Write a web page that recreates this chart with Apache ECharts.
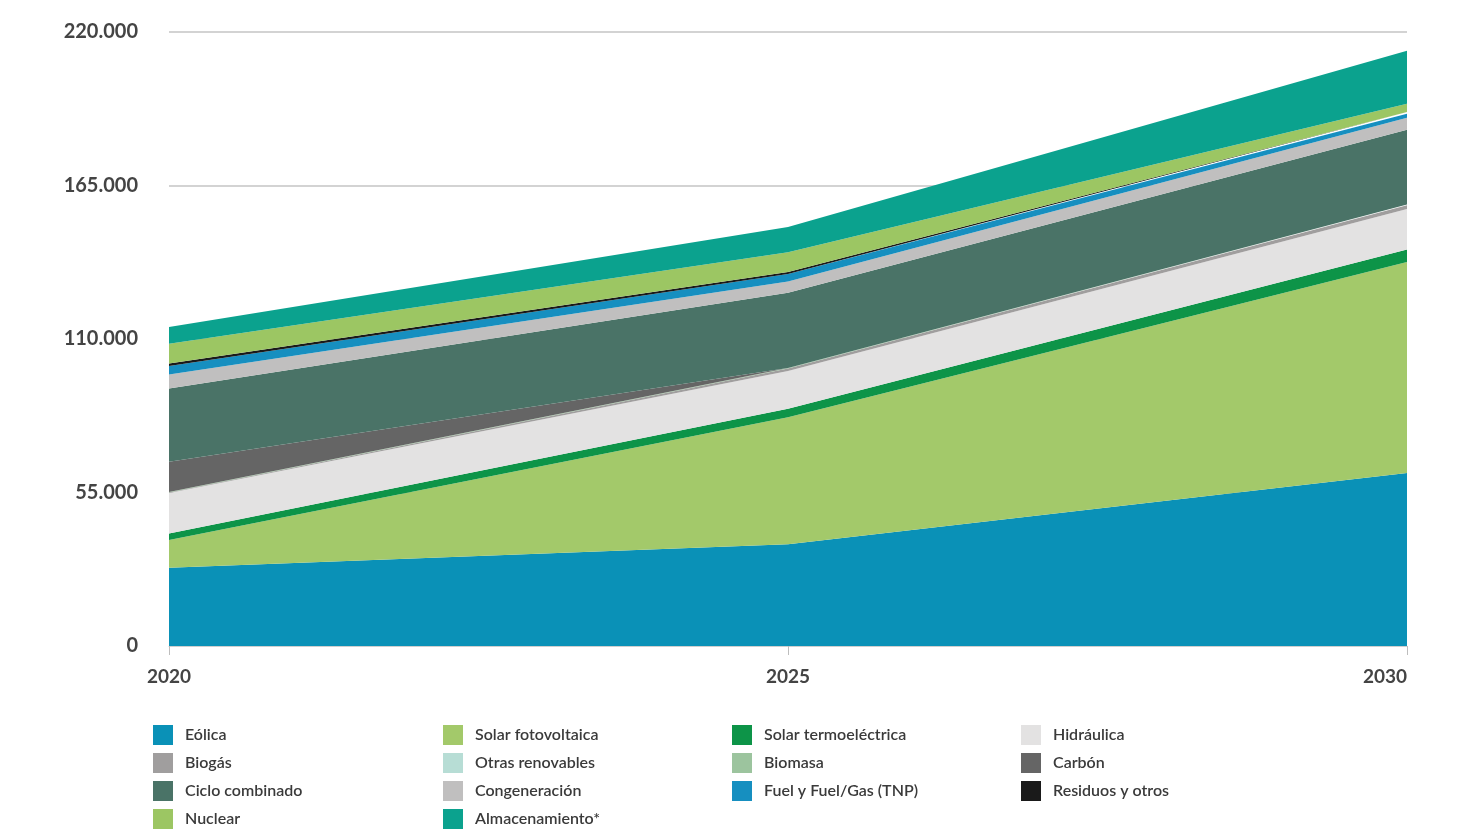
<!DOCTYPE html>
<html>
<head>
<meta charset="utf-8">
<script src="https://cdn.jsdelivr.net/npm/echarts@6/dist/echarts.min.js"></script>
<style>
html,body{margin:0;padding:0;background:#fff;}
#chart{width:1483px;height:834px;}
</style>
</head>
<body>
<div id="chart"></div>
<script>
// Categories
const years = ['2020', '2025', '2030'];
// Y axis ticks
const yTicks = [0, 55000, 110000, 165000, 220000];

// Series values (MW), bottom to top
const eolica          = [28000, 36500, 62000];
const solarFV         = [10000, 45500, 75600];
const solarTermo      = [2300, 3000, 4500];
const hidraulica      = [14500, 13500, 14500];
const biogas          = [200, 900, 1300];
const otrasRenovables = [0, 50, 100];
const biomasa         = [200, 150, 200];
const carbon          = [10800, 0, 0];
const cicloCombinado  = [26300, 27000, 26800];
const cogeneracion    = [5000, 4000, 4300];
const fuelGas         = [3000, 2700, 1400];
const residuos        = [900, 700, 600];
const nuclear         = [7100, 7100, 3000];
const almacenamiento  = [6000, 9000, 19000];

const seriesDefs = [
  ['Eólica', eolica, '#0a91b7'],
  ['Solar fotovoltaica', solarFV, '#a3c96a'],
  ['Solar termoeléctrica', solarTermo, '#0d9448'],
  ['Hidráulica', hidraulica, '#e3e2e2'],
  ['Biogás', biogas, '#a09e9e'],
  ['Otras renovables', otrasRenovables, '#b7ddd5'],
  ['Biomasa', biomasa, '#9cc49e'],
  ['Carbón', carbon, '#656565'],
  ['Ciclo combinado', cicloCombinado, '#4a7367'],
  ['Congeneración', cogeneracion, '#c0bfbf'],
  ['Fuel y Fuel/Gas (TNP)', fuelGas, '#168fc0'],
  ['Residuos y otros', residuos, '#1a1a1a'],
  ['Nuclear', nuclear, '#9cc663'],
  ['Almacenamiento*', almacenamiento, '#0ba28e']
];

const legendCols = [
  ['Eólica', 'Biogás', 'Ciclo combinado', 'Nuclear'],
  ['Solar fotovoltaica', 'Otras renovables', 'Congeneración', 'Almacenamiento*'],
  ['Solar termoeléctrica', 'Biomasa', 'Fuel y Fuel/Gas (TNP)'],
  ['Hidráulica', 'Carbón', 'Residuos y otros']
];
const legendLeft = [153, 443, 732, 1021];

const fmt = v => String(v).replace(/\B(?=(\d{3})+(?!\d))/g, '.');

const chart = echarts.init(document.getElementById('chart'), null, {renderer: 'canvas'});
chart.setOption({
  animation: false,
  backgroundColor: '#ffffff',
  textStyle: {fontFamily: 'Lato, "Open Sans", sans-serif'},
  grid: {left: 169, right: 76, top: 32, bottom: 188, containLabel: false},
  legend: legendCols.map((col, i) => ({
    data: col,
    orient: 'vertical',
    left: legendLeft[i],
    top: 725,
    height: 110,
    padding: 0,
    itemWidth: 20,
    itemHeight: 20,
    itemGap: 8,
    icon: 'rect',
    selectedMode: false,
    textStyle: {fontSize: 16, fontWeight: 600, color: '#3a3a3a', padding: [0, 0, 0, 7], fontFamily: 'Lato, "Open Sans", sans-serif'}
  })),
  xAxis: {
    type: 'category',
    data: years,
    boundaryGap: false,
    axisLine: {show: true, lineStyle: {color: '#cfcfcf', width: 1}},
    axisTick: {show: true, length: 9, lineStyle: {color: '#bdbdbd'}},
    axisLabel: {fontSize: 19, fontWeight: 'bold', color: '#444', margin: 21, alignMaxLabel: 'right', fontFamily: 'Lato, "Open Sans", sans-serif'}
  },
  yAxis: {
    type: 'value',
    min: yTicks[0],
    max: yTicks[yTicks.length - 1],
    interval: yTicks[1] - yTicks[0],
    axisLine: {show: false},
    axisTick: {show: false},
    splitLine: {show: true, lineStyle: {color: '#c4c4c4', width: 1.5}},
    axisLabel: {fontSize: 20, fontWeight: 'bold', color: '#444', margin: 31, formatter: fmt, fontFamily: 'Lato, "Open Sans", sans-serif'}
  },
  series: seriesDefs.map(([name, data, color]) => ({
    name: name,
    type: 'line',
    stack: 'total',
    data: data,
    showSymbol: false,
    symbol: 'none',
    itemStyle: {color: color},
    lineStyle: {width: 0, color: color},
    areaStyle: {color: color, opacity: 1},
    emphasis: {disabled: true}
  }))
});
</script>
</body>
</html>
